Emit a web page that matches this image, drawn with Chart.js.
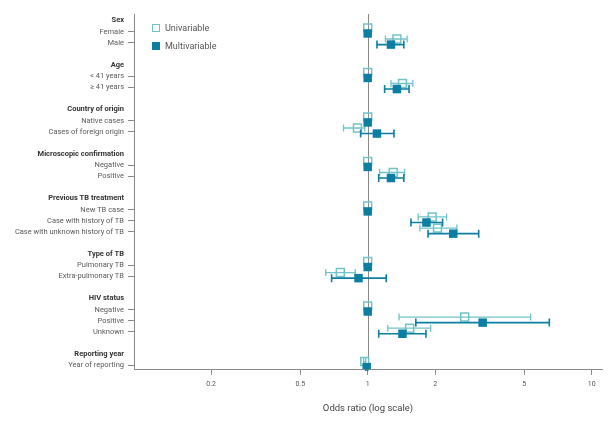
<!DOCTYPE html>
<html>
<head>
<meta charset="utf-8">
<script src="https://cdn.jsdelivr.net/npm/chart.js@4.4.1/dist/chart.umd.min.js"></script>
<style>
  body { margin: 0; background: #fff; overflow: hidden; }
  #wrap { position: relative; width: 616px; height: 424px; }
  #forest { display: block; }
  .legend { position: absolute; left: 152px; font-family: Roboto, sans-serif; font-size: 9px; color: #555; line-height: 10px; }
  .legend span { display: inline-block; width: 8px; height: 8px; box-sizing: border-box; vertical-align: -1px; margin-right: 5px; }
</style>
</head>
<body>
<div id="wrap">
  <canvas id="forest" width="616" height="424"></canvas>
  <div class="legend" style="top:23px"><span style="border:1.5px solid #72c3c9"></span>Univariable</div>
  <div class="legend" style="top:41px"><span style="background:#0b7ea1"></span>Multivariable</div>
</div>
<script>
// Groups and their categories, top to bottom
const groupTitles = ['Sex', 'Age', 'Country of origin', 'Microscopic confirmation',
  'Previous TB treatment', 'Type of TB', 'HIV status', 'Reporting year'];
const groupItems = [
  ['Female', 'Male'],
  ['< 41 years', '≥ 41 years'],
  ['Native cases', 'Cases of foreign origin'],
  ['Negative', 'Positive'],
  ['New TB case', 'Case with history of TB', 'Case with unknown history of TB'],
  ['Pulmonary TB', 'Extra-pulmonary TB'],
  ['Negative', 'Positive', 'Unknown'],
  ['Year of reporting']
];

// Odds ratios with 95% CI, one entry per category (same order as above)
const uniOR   = [1, 1.35, 1, 1.43, 1, 0.90, 1, 1.30, 1, 1.94, 2.05, 1, 0.755, 1, 2.71, 1.54, 0.97];
const uniLow  = [1, 1.20, 1, 1.27, 1, 0.78, 1, 1.13, 1, 1.68, 1.71, 1, 0.65, 1, 1.38, 1.23, 0.96];
const uniHigh = [1, 1.50, 1, 1.59, 1, 0.97, 1, 1.46, 1, 2.25, 2.50, 1, 0.88, 1, 5.34, 1.91, 0.98];
const multiOR   = [1, 1.27, 1, 1.35, 1, 1.10, 1, 1.27, 1, 1.83, 2.41, 1, 0.91, 1, 3.26, 1.43, 0.99];
const multiLow  = [1, 1.10, 1, 1.19, 1, 0.93, 1, 1.12, 1, 1.56, 1.86, 1, 0.69, 1, 1.64, 1.12, 0.98];
const multiHigh = [1, 1.45, 1, 1.53, 1, 1.31, 1, 1.45, 1, 2.16, 3.13, 1, 1.21, 1, 6.47, 1.82, 1.00];

const xTicks = [0.2, 0.5, 1, 2, 5, 10];

const uniColor = '#72c3c9';
const multiColor = '#0b7ea1';
const font = 'Roboto, sans-serif';

// build the row list: header, items, blank spacer
const rowLabels = [];
const headerRows = [];
const itemRows = [];
groupTitles.forEach((title, g) => {
  headerRows.push(rowLabels.length);
  rowLabels.push(title);
  groupItems[g].forEach(item => {
    itemRows.push(rowLabels.length);
    rowLabels.push(item);
  });
  if (g < groupTitles.length - 1) rowLabels.push('');
});

const isHeader = ctx => !!ctx.tick && headerRows.includes(ctx.tick.value);
const isItem = ctx => !!ctx.tick && itemRows.includes(ctx.tick.value);

function points(or, lo, hi, shift) {
  return or.map((v, i) => ({ x: v, y: itemRows[i] + shift, lo: lo[i], hi: hi[i] }));
}

// confidence interval whiskers, drawn just under each dataset's markers
const errorBars = {
  id: 'errorBars',
  beforeDatasetDraw(chart, args) {
    const ds = chart.data.datasets[args.index];
    const { ctx, scales: { x, y } } = chart;
    ctx.save();
    ctx.strokeStyle = ds.borderColor;
    ctx.lineWidth = ds.barWidth;
    ds.data.forEach(p => {
      if (p.lo === p.hi) return;
      const py = y.getPixelForValue(p.y);
      const x1 = x.getPixelForValue(p.lo);
      const x2 = x.getPixelForValue(p.hi);
      const c = ds.capSize / 2;
      ctx.beginPath();
      ctx.moveTo(x1, py); ctx.lineTo(x2, py);
      ctx.moveTo(x1, py - c); ctx.lineTo(x1, py + c);
      ctx.moveTo(x2, py - c); ctx.lineTo(x2, py + c);
      ctx.stroke();
    });
    ctx.restore();
  }
};

// vertical line at OR = 1
const refLine = {
  id: 'refLine',
  beforeDatasetsDraw(chart) {
    const { ctx, chartArea, scales: { x } } = chart;
    const px = Math.round(x.getPixelForValue(1)) + 0.5;
    ctx.save();
    ctx.strokeStyle = '#8a8a8a';
    ctx.lineWidth = 1;
    ctx.beginPath();
    ctx.moveTo(px, chartArea.top);
    ctx.lineTo(px, chartArea.bottom);
    ctx.stroke();
    ctx.restore();
  }
};

new Chart(document.getElementById('forest'), {
  type: 'scatter',
  data: {
    datasets: [
      {
        label: 'Univariable',
        data: points(uniOR, uniLow, uniHigh, -0.34),
        pointStyle: 'rect',
        pointRadius: 5.6,
        borderWidth: 1.5,
        borderColor: uniColor,
        backgroundColor: 'rgba(0,0,0,0)',
        barWidth: 1.3,
        capSize: 7,
        order: 2
      },
      {
        label: 'Multivariable',
        data: points(multiOR, multiLow, multiHigh, 0.16),
        pointStyle: 'rect',
        pointRadius: 6,
        borderWidth: 0,
        borderColor: multiColor,
        backgroundColor: multiColor,
        barWidth: 1.6,
        capSize: 8,
        order: 1
      }
    ]
  },
  options: {
    responsive: false,
    animation: false,
    layout: { padding: { left: 0, top: 14, right: 14, bottom: 0 } },
    plugins: {
      legend: { display: false },
      tooltip: { enabled: false }
    },
    scales: {
      x: {
        type: 'logarithmic',
        min: 0.0905,
        max: 11.12,
        afterBuildTicks: scale => { scale.ticks = xTicks.map(v => ({ value: v })); },
        afterFit: scale => { scale.height = 55; },
        border: { color: '#8a8a8a', width: 1 },
        grid: { drawOnChartArea: false, tickLength: 6, tickColor: '#8a8a8a' },
        ticks: {
          callback: v => String(v),
          font: { family: font, size: 7 },
          color: '#555',
          padding: 5,
          maxRotation: 0
        },
        title: {
          display: true,
          text: 'Odds ratio (log scale)',
          font: { family: font, size: 9.5 },
          color: '#444',
          padding: { top: 0, bottom: 10 }
        }
      },
      y: {
        type: 'linear',
        reverse: true,
        min: -0.59,
        max: 31.33,
        afterBuildTicks: scale => { scale.ticks = rowLabels.map((l, i) => ({ value: i })); },
        afterFit: scale => { scale.width = 134; },
        border: { color: '#8a8a8a', width: 1 },
        grid: {
          drawOnChartArea: false,
          tickLength: 6,
          tickColor: ctx => isItem(ctx) ? '#8a8a8a' : 'rgba(0,0,0,0)'
        },
        ticks: {
          autoSkip: false,
          callback: v => rowLabels[v],
          font: ctx => isHeader(ctx)
            ? { family: font, size: 7.5, weight: 'bold' }
            : { family: font, size: 7.5 },
          color: ctx => isHeader(ctx) ? '#333' : '#5a5a5a',
          padding: 4
        }
      }
    }
  },
  plugins: [refLine, errorBars]
});
</script>
</body>
</html>
